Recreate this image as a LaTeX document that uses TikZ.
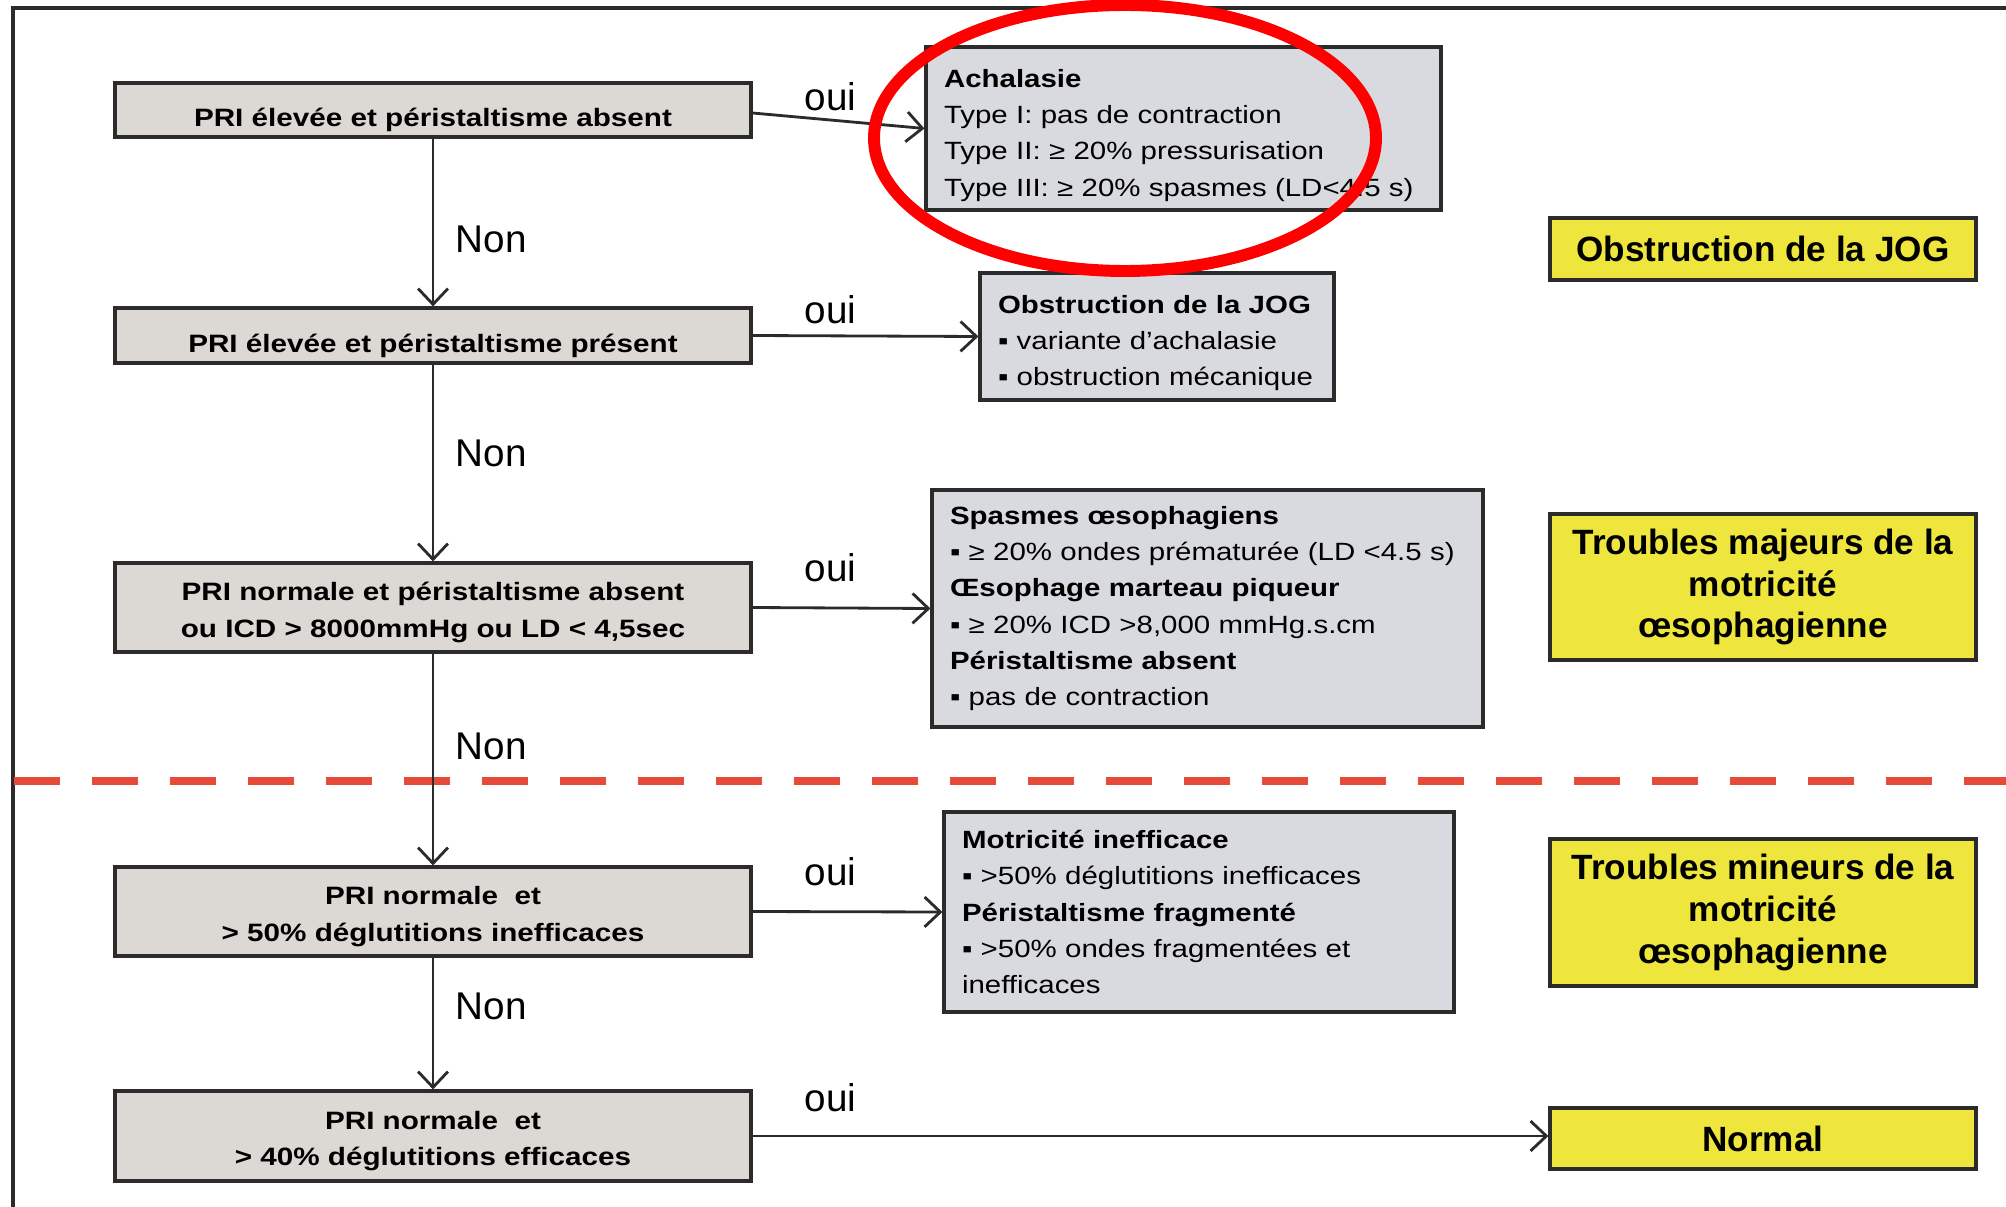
\documentclass[tikz,border=0pt]{standalone}
\usepackage{fontspec}
\setmainfont{Liberation Sans}
\newfontfamily\boxfont[FakeStretch=1.18]{Liberation Sans}
\usepackage{xcolor}
\usepackage{tikz}
\usetikzlibrary{positioning, arrows.meta}
\definecolor{qgray}{HTML}{DCD8D4}
\definecolor{rgray}{HTML}{D9DADF}
\definecolor{ybox}{HTML}{EEE63C}
\definecolor{edge}{HTML}{2B2B2B}
\definecolor{dashred}{HTML}{E84A3A}
\tikzset{
  question/.style={rectangle, draw=edge, line width=0.9pt, fill=qgray, minimum width=6.36cm,
                   align=center, inner sep=2pt, font=\boxfont\bfseries\fontsize{7.15}{10.4}\selectfont},
  result/.style={rectangle, draw=edge, line width=0.9pt, fill=rgray, align=left,
                 inner xsep=0.18cm, inner ysep=2pt, font=\boxfont\fontsize{7.1}{10.3}\selectfont},
  category/.style={rectangle, draw=edge, line width=0.9pt, fill=ybox, minimum width=4.26cm,
                   align=center, font=\bfseries\fontsize{10}{11.9}\selectfont},
  lbl/.style={font=\fontsize{11}{13}\selectfont, inner sep=1pt},
  arr/.style={-{Straight Barb[length=4.5pt, width=8.5pt]}, line width=0.8pt, draw=edge},
}

\begin{document}
\begin{tikzpicture}
  \useasboundingbox (0,0) rectangle (20.06,-12.07);

  %% === Frame and separator ===
  \draw[edge, line width=0.9pt] (0.13,-12.07) -- (0.13,-0.08) -- (20.06,-0.08);
  \draw[dashred, line width=2.3pt, dash pattern=on 0.46cm off 0.32cm] (0.14,-7.81) -- (20.06,-7.81);

  %% === Left column: questions ===
  \node[question, minimum height=0.54cm, text height=9.5pt, text depth=0pt] at (4.33,-1.10) (q1) {PRI élevée et péristaltisme absent};
  \node[question, minimum height=0.55cm, text height=9.5pt, text depth=0pt] at (4.33,-3.355) (q2) {PRI élevée et péristaltisme présent};
  \node[question, minimum height=0.89cm] at (4.33,-6.075) (q3) {\rule{0pt}{8pt}PRI normale et péristaltisme absent\\ou ICD > 8000mmHg ou LD < 4,5sec};
  \node[question, minimum height=0.89cm] at (4.33,-9.115) (q4) {\rule{0pt}{8pt}PRI normale\ \ et\\> 50\% déglutitions inefficaces};
  \node[question, minimum height=0.90cm] at (4.33,-11.36) (q5) {\rule{0pt}{8pt}PRI normale\ \ et\\> 40\% déglutitions efficaces};

  %% === Middle column: diagnoses ===
  \node[result, text width=4.79cm, minimum height=1.63cm] at (11.835,-1.285) (achal)
    {\rule{0pt}{9pt}\textbf{Achalasie}\\Type I: pas de contraction\\Type II: ≥ 20\% pressurisation\\Type III: ≥ 20\% spasmes (LD<4.5 s)};
  \node[result, text width=3.18cm, minimum height=1.27cm] at (11.57,-3.365) (jog)
    {\rule{0pt}{9pt}\textbf{Obstruction de la JOG}\\▪ variante d’achalasie\\▪ obstruction mécanique};
  \node[result, text width=5.15cm, minimum height=2.37cm] at (12.075,-6.085) (spasm)
    {\textbf{Spasmes œsophagiens}\\▪ ≥ 20\% ondes prématurée (LD <4.5 s)\\\textbf{Œsophage marteau piqueur}\\▪ ≥ 20\% ICD >8,000 mmHg.s.cm\\\textbf{Péristaltisme absent}\\▪ pas de contraction};
  \node[result, text width=4.74cm, minimum height=2.00cm] at (11.99,-9.12) (motr)
    {\textbf{Motricité inefficace}\\▪ >50\% déglutitions inefficaces\\\textbf{Péristaltisme fragmenté}\\▪ >50\% ondes fragmentées et\\inefficaces};

  %% === Right column: categories ===
  \node[category, minimum height=0.62cm] at (17.63,-2.49) (yjog) {Obstruction de la JOG};
  \node[category, minimum height=1.46cm] at (17.63,-5.87) (ymaj) {Troubles majeurs de la\\motricité\\œsophagienne};
  \node[category, minimum height=1.47cm] at (17.63,-9.125) (ymin) {Troubles mineurs de la\\motricité\\œsophagienne};
  \node[category, minimum height=0.61cm] at (17.63,-11.385) (ynorm) {Normal};

  % Non arrows
  \draw[arr] (q1) -- node[lbl, right=0.18cm, pos=0.6] (non1) {Non} (q2);
  \draw[arr] (q2) -- node[lbl, right=0.18cm, pos=0.45] (non2) {Non} (q3);
  \draw[arr] (q3) -- node[lbl, right=0.18cm, pos=0.44] (non3) {Non} (q4);
  \draw[arr] (q4) -- node[lbl, right=0.18cm, pos=0.37] (non4) {Non} (q5);

  % oui arrows
  \draw[arr] ([yshift=-0.03cm]q1.east) -- (achal.west);
  \draw[arr] (q2.east) -- (jog.west);
  \draw[arr] (q3.east) -- (spasm.west);
  \draw[arr] (q4.east) -- (motr.west);
  \draw[arr] (q5.east) -- (q5.east -| ynorm.west);

  \node[lbl] at ([xshift=0.78cm, yshift=0.13cm]q1.east) (oui1) {oui};
  \node[lbl] at ([xshift=0.78cm, yshift=0.26cm]q2.east) (oui2) {oui};
  \node[lbl] at ([xshift=0.78cm, yshift=0.40cm]q3.east) (oui3) {oui};
  \node[lbl] at ([xshift=0.78cm, yshift=0.40cm]q4.east) (oui4) {oui};
  \node[lbl] at ([xshift=0.78cm, yshift=0.38cm]q5.east) (oui5) {oui};

  % red ring round the achalasia box
  \draw[red, line width=3.4pt] (11.25,-1.38) ellipse [x radius=2.51cm, y radius=1.33cm];

\end{tikzpicture}
\end{document}
